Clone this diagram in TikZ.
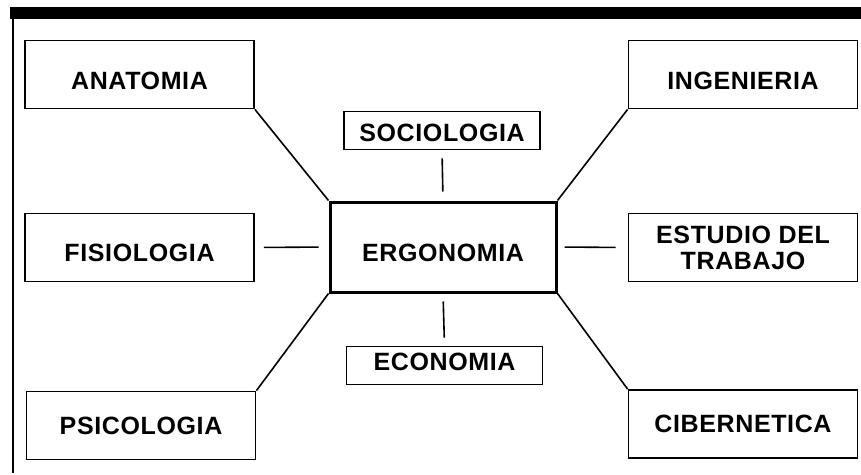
\documentclass[tikz,border=0pt]{standalone}
\usepackage{fontspec}
\setmainfont{Liberation Sans}[LetterSpace=2.5]
\usepackage{tikz}

\tikzset{
  box/.style={draw, line width=1.8pt, minimum width=229pt, minimum height=68pt, inner sep=0pt,
    font=\fontsize{25}{23}\selectfont\bfseries, align=center},
  smallbox/.style={box, minimum width=196pt, minimum height=38pt},
  link/.style={line width=1.6pt}
}

\begin{document}
\begin{tikzpicture}[x=1pt,y=-1pt]
            \useasboundingbox (0,0) rectangle (861,474);
            \fill (10,7) rectangle (861,19);
            \draw[line width=2pt] (13,19) -- (13,473);

            \node[box, line width=3pt, minimum width=226pt, minimum height=90pt, text height=30pt] (ergonomia) at (443,247) {ERGONOMIA};

            \node[box, text height=31pt] (anatomia) at (139.5,74.5) {ANATOMIA};
            \node[box, text height=31pt] (ingenieria) at (743,74.5) {INGENIERIA};
            \node[box, text height=29pt] (fisiologia) at (139.5,247.5) {FISIOLOGIA};
            \node[box] (estudio) at (743,247.5) {ESTUDIO DEL\\[3pt]TRABAJO};
            \node[box] (psicologia) at (141,425.5) {PSICOLOGIA};
            \node[box] (cibernetica) at (743,424) {CIBERNETICA};

            \node[smallbox, text height=23pt] (sociologia) at (442,130.5) {SOCIOLOGIA};
            \node[smallbox, text depth=7pt] (economia) at (444.5,365.5) {ECONOMIA};

            \draw[link] (anatomia.south east) -- (ergonomia.north west);
            \draw[link] (ingenieria.south west) -- (ergonomia.north east);
            \draw[link] (psicologia.north east) -- (ergonomia.south west);
            \draw[link] (cibernetica.north west) -- (ergonomia.south east);

            \draw[link, shorten <=9pt, shorten >=10pt] (fisiologia.east) -- (ergonomia.west);
            \draw[link, shorten <=7pt, shorten >=12pt] (ergonomia.east) -- (estudio.west);
            \draw[link, shorten <=8pt, shorten >=9pt] (sociologia.south) -- (ergonomia.north);
            \draw[link, shorten <=8pt, shorten >=8pt] (ergonomia.south) -- (economia.north);
\end{tikzpicture}
\end{document}
